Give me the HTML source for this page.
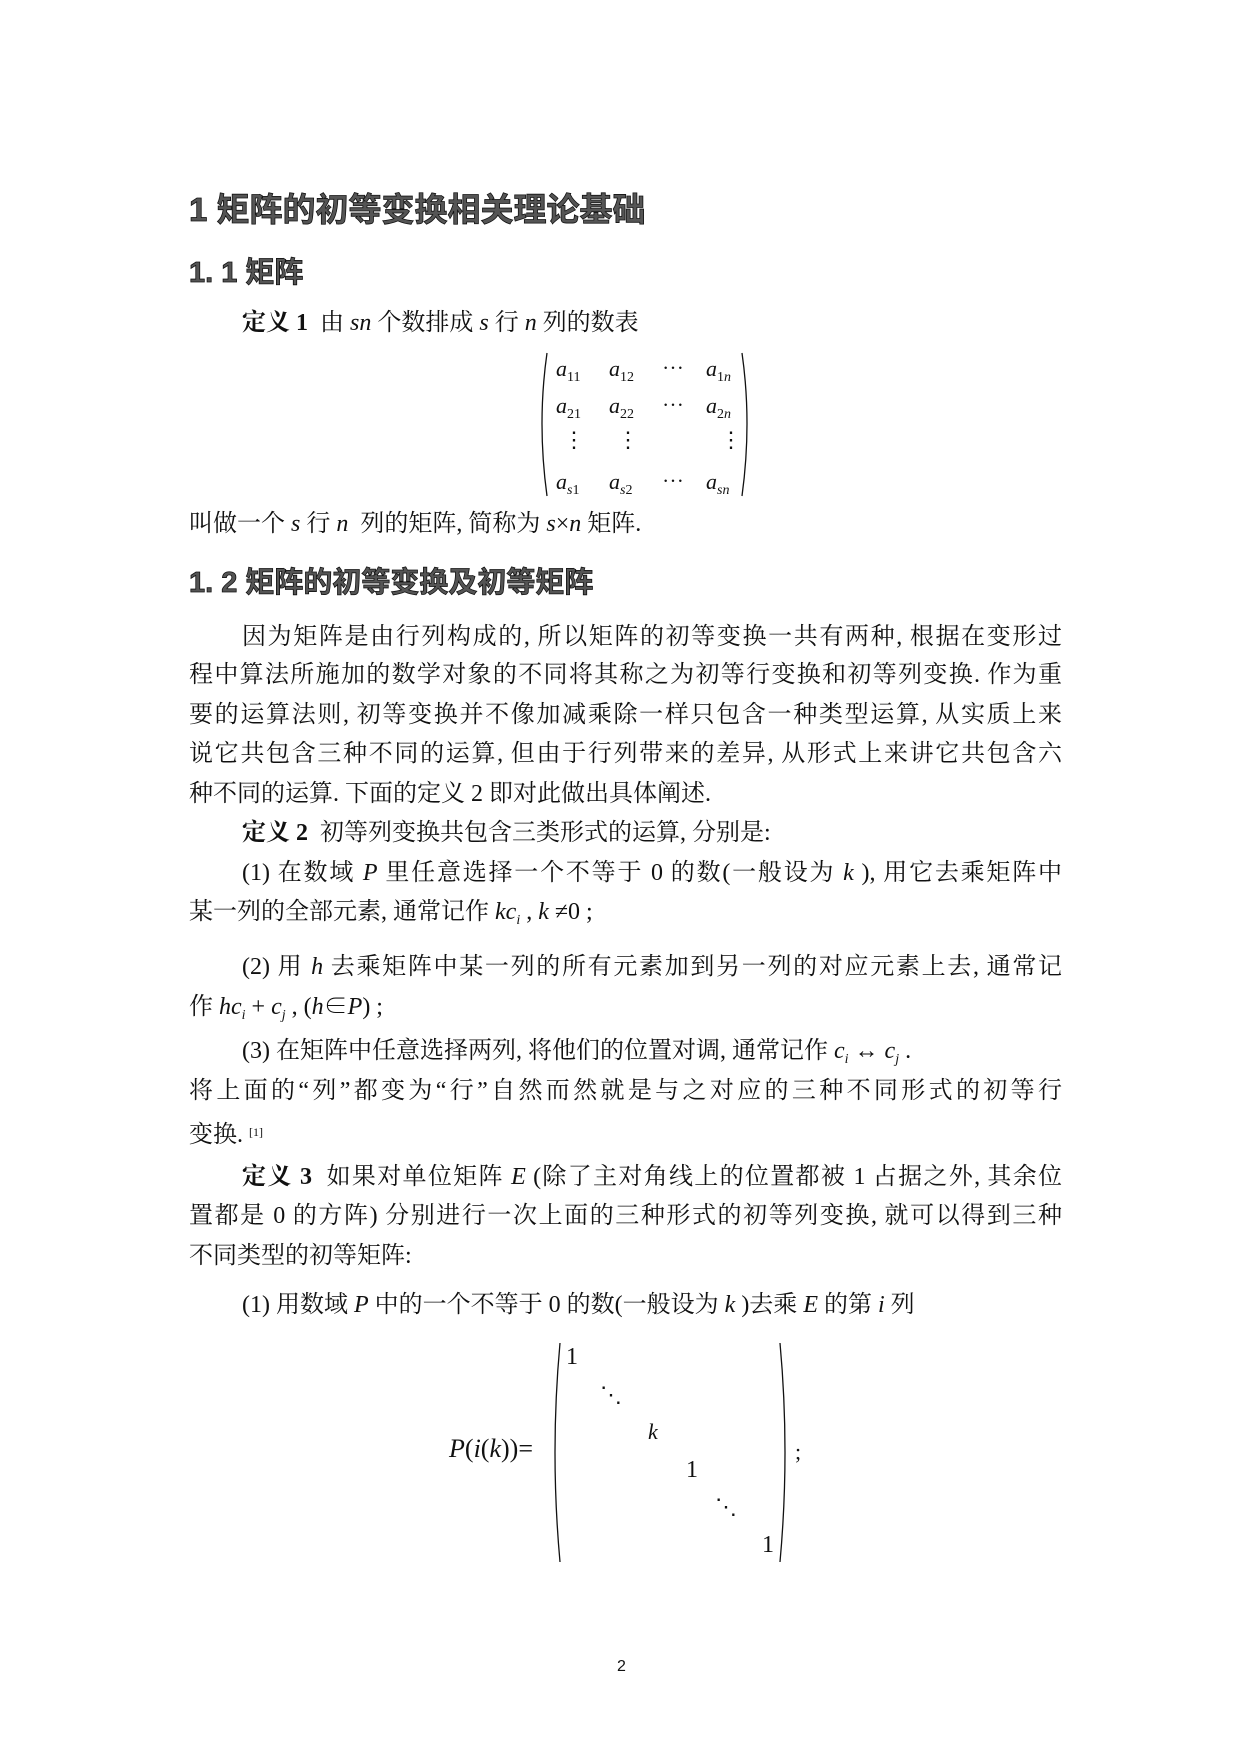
<!DOCTYPE html>
<html><head><meta charset="utf-8">
<style>
body{margin:0;background:#fff;}
#pg{position:relative;width:1240px;height:1754px;background:#fff;overflow:hidden;color:#111;
font-family:"Liberation Serif","Noto Serif CJK SC",serif;font-size:24px;}
.l{position:absolute;left:189px;width:873px;height:30px;line-height:30px;white-space:nowrap;}
.j{text-align:justify;text-align-last:justify;}
.in{left:242px;width:820px;}
.h{position:absolute;left:189px;font-family:"Liberation Sans","Noto Sans CJK SC",sans-serif;font-weight:bold;color:#555;-webkit-text-stroke:0.8px #111;white-space:nowrap;}
i{font-style:italic;}
sub{font-size:14px;vertical-align:-5px;font-style:normal;}
sub i{font-style:italic;}
.m{position:absolute;font-style:italic;font-size:22px;line-height:24px;white-space:nowrap;}
b{font-family:"Liberation Serif","Noto Serif CJK SC",serif;}
</style></head><body><div id="pg">
<div class="h" style="top:183px;font-size:33px;">1 矩阵的初等变换相关理论基础</div>
<div class="h" style="top:249px;font-size:29px;">1. 1 矩阵</div>
<div class="l in" style="top:308px;"><b>定义 1</b>&nbsp; 由 <i>sn</i> 个数排成 <i>s</i> 行 <i>n</i> 列的数表</div>
<svg style="position:absolute;left:537px;top:350px" width="220" height="150">
<path d="M10 3 Q0 73 10 146" fill="none" stroke="#111" stroke-width="1.3"/>
<path d="M205 3 Q215 73 205 146" fill="none" stroke="#111" stroke-width="1.3"/>
</svg>
<div class="m" style="left:556px;top:357px">a<sub>11</sub></div>
<div class="m" style="left:609px;top:357px">a<sub>12</sub></div>
<div class="m" style="left:662px;top:357px;font-style:normal">⋯</div>
<div class="m" style="left:706px;top:357px">a<sub>1<i>n</i></sub></div>
<div class="m" style="left:556px;top:394px">a<sub>21</sub></div>
<div class="m" style="left:609px;top:394px">a<sub>22</sub></div>
<div class="m" style="left:662px;top:394px;font-style:normal">⋯</div>
<div class="m" style="left:706px;top:394px">a<sub>2<i>n</i></sub></div>
<div class="m" style="left:563px;top:428px;font-style:normal">⋮</div>
<div class="m" style="left:617px;top:428px;font-style:normal">⋮</div>
<div class="m" style="left:720px;top:428px;font-style:normal">⋮</div>
<div class="m" style="left:556px;top:470px">a<sub><i>s</i>1</sub></div>
<div class="m" style="left:609px;top:470px">a<sub><i>s</i>2</sub></div>
<div class="m" style="left:662px;top:470px;font-style:normal">⋯</div>
<div class="m" style="left:706px;top:470px">a<sub><i>sn</i></sub></div>
<div class="l" style="top:509px;">叫做一个 <i>s</i> 行 <i>n</i>&nbsp; 列的矩阵, 简称为 <i>s</i>×<i>n</i> 矩阵.</div>
<div class="h" style="top:559px;font-size:29px;">1. 2 矩阵的初等变换及初等矩阵</div>
<div class="l in j" style="top:622px;">因为矩阵是由行列构成的, 所以矩阵的初等变换一共有两种, 根据在变形过</div>
<div class="l j" style="top:660px;">程中算法所施加的数学对象的不同将其称之为初等行变换和初等列变换. 作为重</div>
<div class="l j" style="top:700px;">要的运算法则, 初等变换并不像加减乘除一样只包含一种类型运算, 从实质上来</div>
<div class="l j" style="top:739px;">说它共包含三种不同的运算, 但由于行列带来的差异, 从形式上来讲它共包含六</div>
<div class="l" style="top:779px;">种不同的运算. 下面的定义 2 即对此做出具体阐述.</div>
<div class="l in" style="top:818px;"><b>定义 2</b>&nbsp; 初等列变换共包含三类形式的运算, 分别是:</div>
<div class="l in j" style="top:858px;">(1) 在数域 <i>P</i> 里任意选择一个不等于 0 的数(一般设为 <i>k</i> ), 用它去乘矩阵中</div>
<div class="l" style="top:897px;">某一列的全部元素, 通常记作 <i>kc<sub><i>i</i></sub></i> , <i>k</i> ≠0 ;</div>
<div class="l in j" style="top:952px;">(2) 用 <i>h</i> 去乘矩阵中某一列的所有元素加到另一列的对应元素上去, 通常记</div>
<div class="l" style="top:992px;">作 <i>hc<sub><i>i</i></sub></i> + <i>c<sub><i>j</i></sub></i> , (<i>h</i>∈<i>P</i>) ;</div>
<div class="l in" style="top:1036px;">(3) 在矩阵中任意选择两列, 将他们的位置对调, 通常记作 <i>c<sub><i>i</i></sub></i> ↔ <i>c<sub><i>j</i></sub></i> .</div>
<div class="l j" style="top:1076px;">将上面的“列”都变为“行”自然而然就是与之对应的三种不同形式的初等行</div>
<div class="l" style="top:1117px;">变换. <span style="font-size:12px;vertical-align:6px">[1]</span></div>
<div class="l in j" style="top:1162px;"><b>定义 3</b>&nbsp; 如果对单位矩阵 <i>E</i> (除了主对角线上的位置都被 1 占据之外, 其余位</div>
<div class="l j" style="top:1201px;">置都是 0 的方阵) 分别进行一次上面的三种形式的初等列变换, 就可以得到三种</div>
<div class="l" style="top:1241px;">不同类型的初等矩阵:</div>
<div class="l in" style="top:1290px;">(1) 用数域 <i>P</i> 中的一个不等于 0 的数(一般设为 <i>k</i> )去乘 <i>E</i> 的第 <i>i</i> 列</div>
<svg style="position:absolute;left:550px;top:1340px" width="245" height="225">
<path d="M10 3 Q0 112 10 222" fill="none" stroke="#111" stroke-width="1.3"/>
<path d="M230 3 Q240 112 230 222" fill="none" stroke="#111" stroke-width="1.3"/>
</svg>
<div class="m" style="left:566px;top:1345px;font-style:normal;font-size:24px">1</div>
<div class="m" style="left:600px;top:1383px;font-style:normal">⋱</div>
<div class="m" style="left:648px;top:1420px">k</div>
<div class="m" style="left:686px;top:1458px;font-style:normal;font-size:24px">1</div>
<div class="m" style="left:715px;top:1495px;font-style:normal">⋱</div>
<div class="m" style="left:762px;top:1533px;font-style:normal;font-size:24px">1</div>
<div class="m" style="left:449px;top:1437px;font-size:26px">P<span style="font-style:normal">(</span>i<span style="font-style:normal">(</span>k<span style="font-style:normal">))=</span></div>
<div class="m" style="left:795px;top:1440px;font-style:normal">;</div>
<div style="position:absolute;left:617px;top:1658px;font-family:'Liberation Sans',sans-serif;font-size:16px;">2</div>
</div></body></html>
